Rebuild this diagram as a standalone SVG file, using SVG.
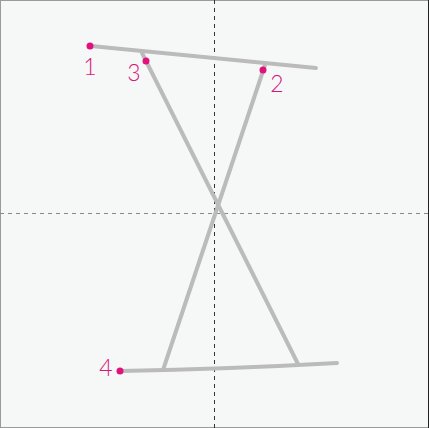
<svg xmlns="http://www.w3.org/2000/svg" width="429" height="428" viewBox="0 0 429 428">
<style>
.seg{stroke:#bbbbbb;stroke-width:4;fill:none;stroke-linecap:round}
.pt{fill:#e2127c}
.lbl{fill:#d9177a;font-family:Lato,"DejaVu Sans","Liberation Sans",sans-serif;font-weight:300;font-size:23px;text-anchor:middle}
</style>
<rect x="0" y="0" width="429" height="428" fill="#f6f8f7"/>
<rect x="0.5" y="0.5" width="428" height="427" fill="none" stroke="#9a9a9a" stroke-width="1"/>
<line x1="428.5" y1="0" x2="428.5" y2="428" stroke="#222" stroke-width="1"/>
<g id="axes">
<line x1="214.5" y1="0" x2="214.5" y2="428" stroke="#333" stroke-width="1" stroke-dasharray="4,4"/>
<line x1="0" y1="213.5" x2="429" y2="213.5" stroke="#888" stroke-width="1" stroke-dasharray="4,4"/>
</g>
<g id="connectors">
<line class="seg" x1="91" y1="46" x2="316" y2="68"/>
<line class="seg" x1="142" y1="53" x2="298" y2="364"/>
<line class="seg" x1="265" y1="65" x2="163" y2="370"/>
<path class="seg" d="M121,371 Q230,369 337,363"/>
</g>
<g id="p1"><circle class="pt" cx="90" cy="46" r="3.5"/><text class="lbl" x="90" y="75">1</text></g>
<g id="p3"><circle class="pt" cx="146" cy="61" r="3.5"/><text class="lbl" x="134" y="81">3</text></g>
<g id="p2"><circle class="pt" cx="263" cy="70" r="3.5"/><text class="lbl" x="277" y="92">2</text></g>
<g id="p4"><circle class="pt" cx="120" cy="371" r="3.5"/><text class="lbl" x="106" y="376">4</text></g>
</svg>
